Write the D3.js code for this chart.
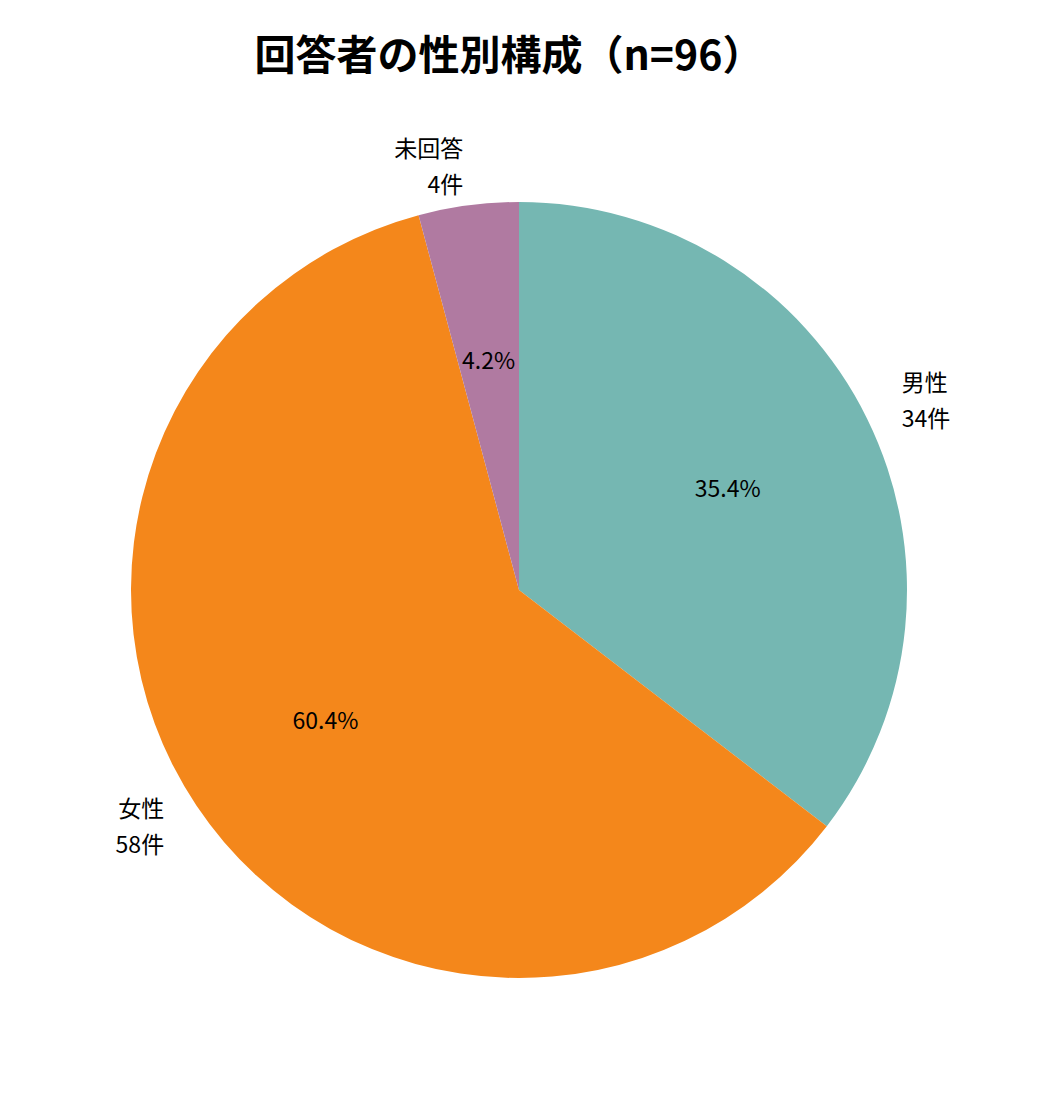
<!DOCTYPE html>
<html lang="ja">
<head>
<meta charset="UTF-8">
<script src="https://d3js.org/d3.v7.min.js"></script>
<style>body{margin:0;background:#fff;}</style>
</head>
<body>
<svg width="1038" height="1110" id="mainsvg"></svg>
<script>
const categories = ['男性', '女性', '未回答'];
const counts = [34, 58, 4];
const colors = ['#75b7b2', '#f4871b', '#b07aa1'];
const total = d3.sum(counts);

const svg = d3.select('#mainsvg');
const font = '"Noto Sans CJK JP", "Noto Sans", sans-serif';
const cx = 519, cy = 590, radius = 388;

svg.append('text').text('回答者の性別構成（n=96）')
    .attr('x', cx - 10).attr('y', 70)
    .attr('text-anchor', 'middle')
    .attr('font-family', font).attr('font-weight', 'bold').attr('font-size', 41);

const pie = d3.pie().sort(null).value(d => d.value);
const arcs = pie(categories.map((c, i) => ({ name: c, value: counts[i], color: colors[i] })));
const arc = d3.arc().innerRadius(0).outerRadius(radius);

const g = svg.append('g').attr('transform', `translate(${cx}, ${cy})`);
g.selectAll('path').data(arcs).enter().append('path')
    .attr('d', arc)
    .attr('fill', d => d.data.color);

const mid = d => (d.startAngle + d.endAngle) / 2;

// percentages inside
g.selectAll('.pct').data(arcs).enter().append('text')
    .attr('class', 'pct')
    .attr('x', d => Math.sin(mid(d)) * radius * 0.6)
    .attr('y', d => -Math.cos(mid(d)) * radius * 0.6)
    .attr('text-anchor', 'middle').attr('dominant-baseline', 'central')
    .attr('font-family', font).attr('font-size', 23)
    .text(d => (d.data.value / total * 100).toFixed(1) + '%');

// outer labels, two separate lines
const pos = d => [Math.sin(mid(d)) * radius * 1.1, -Math.cos(mid(d)) * radius * 1.1];
const anchor = d => Math.sin(mid(d)) >= 0 ? 'start' : 'end';
g.selectAll('.lab1').data(arcs).enter().append('text')
    .attr('font-family', font).attr('font-size', 23)
    .attr('text-anchor', anchor)
    .attr('x', d => pos(d)[0]).attr('y', d => pos(d)[1] - 10)
    .text(d => d.data.name);
g.selectAll('.lab2').data(arcs).enter().append('text')
    .attr('font-family', font).attr('font-size', 23)
    .attr('text-anchor', anchor)
    .attr('x', d => pos(d)[0]).attr('y', d => pos(d)[1] + 26)
    .text(d => d.data.value + '件');
</script>
</body>
</html>
